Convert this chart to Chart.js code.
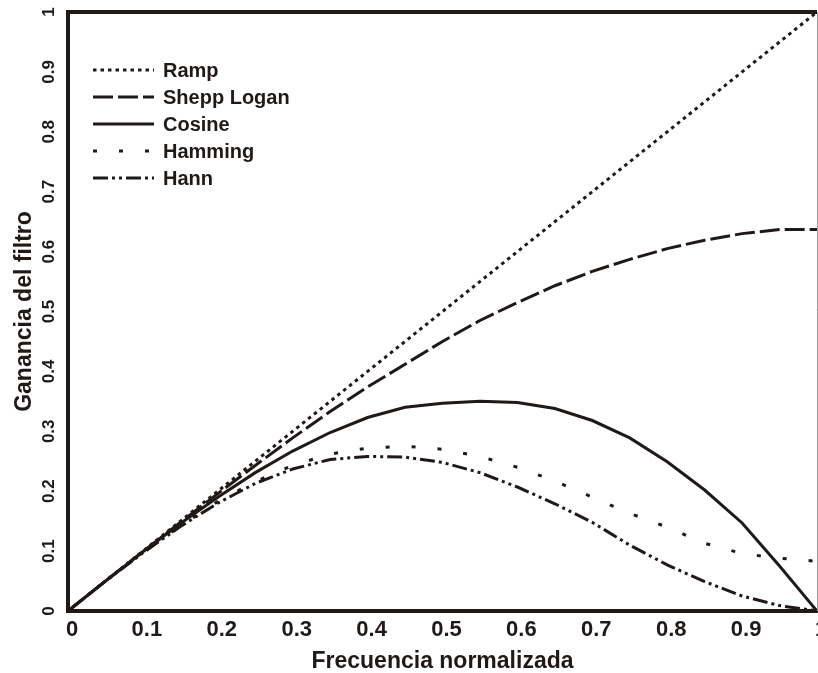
<!DOCTYPE html>
<html>
<head>
<meta charset="utf-8">
<script src="https://cdn.jsdelivr.net/npm/chart.js@4.4.1/dist/chart.umd.min.js"></script>
<style>
    html, body { margin: 0; padding: 0; background: #fff; overflow: hidden; }
    canvas { display: block; }
</style>
</head>
<body>
<canvas id="filterChart" width="818" height="673"></canvas>
<script>
// normalized frequency samples
const freq = [0, 0.05, 0.1, 0.15, 0.2, 0.25, 0.3, 0.35, 0.4, 0.45, 0.5,
    0.55, 0.6, 0.65, 0.7, 0.75, 0.8, 0.85, 0.9, 0.95, 1];

const ramp = [0, 0.05, 0.1, 0.15, 0.2, 0.25, 0.3, 0.35, 0.4, 0.45, 0.5,
    0.55, 0.6, 0.65, 0.7, 0.75, 0.8, 0.85, 0.9, 0.95, 1];
const sheppLogan = [0, 0.05, 0.099, 0.148, 0.196, 0.243, 0.289, 0.333, 0.374, 0.412, 0.45,
    0.485, 0.515, 0.543, 0.567, 0.587, 0.605, 0.619, 0.63, 0.637, 0.637];
const cosine = [0, 0.05, 0.099, 0.146, 0.19, 0.231, 0.267, 0.298, 0.323, 0.34, 0.347,
    0.35, 0.348, 0.338, 0.318, 0.289, 0.249, 0.202, 0.147, 0.075, 0];
const hamming = [0, 0.05, 0.098, 0.142, 0.183, 0.216, 0.243, 0.262, 0.272, 0.275, 0.27,
    0.258, 0.24, 0.217, 0.19, 0.163, 0.14, 0.113, 0.096, 0.088, 0.083];
const hann = [0, 0.05, 0.097, 0.141, 0.18, 0.213, 0.237, 0.253, 0.258, 0.257, 0.248,
    0.231, 0.207, 0.179, 0.148, 0.11, 0.077, 0.049, 0.025, 0.009, 0];

const seriesNames = ["Ramp", "Shepp Logan", "Cosine", "Hamming", "Hann"];
const xTicks = { min: 0, max: 1, step: 0.1 };
const yTicks = { min: 0, max: 1, step: 0.1 };

const ink = "#1f1a17";
const family = "'Liberation Sans', Arial, sans-serif";

function toPoints(ys) {
    return freq.map((x, i) => ({ x: x, y: ys[i] }));
}

function lineSet(label, ys, dash) {
    return {
        label: label,
        data: toPoints(ys),
        borderColor: ink,
        borderWidth: 3,
        borderDash: dash,
        borderCapStyle: "butt",
        pointRadius: 0,
        fill: false,
        tension: 0,
    };
}

// legend drawn inside the plot, top left
const insideLegend = {
    id: "insideLegend",
    afterDraw(chart) {
        const ctx = chart.ctx;
        const area = chart.chartArea;
        ctx.save();
        chart.data.datasets.forEach(function (ds, i) {
            const y = area.top + 58 + i * 27;
            ctx.strokeStyle = ink;
            ctx.lineWidth = 3;
            ctx.setLineDash(ds.borderDash);
            ctx.beginPath();
            ctx.moveTo(area.left + 25, y);
            ctx.lineTo(area.left + 86, y);
            ctx.stroke();
            ctx.setLineDash([]);
            ctx.fillStyle = ink;
            ctx.font = "bold 20px " + family;
            ctx.textBaseline = "middle";
            ctx.textAlign = "left";
            ctx.fillText(ds.label, area.left + 95, y + 1);
        });
        ctx.restore();
    },
};

// top border and thin right edge
const frame = {
    id: "frame",
    afterDraw(chart) {
        const ctx = chart.ctx;
        const a = chart.chartArea;
        ctx.save();
        ctx.strokeStyle = ink;
        ctx.lineWidth = 4;
        ctx.beginPath();
        ctx.moveTo(a.left - 2, a.top);
        ctx.lineTo(a.right, a.top);
        ctx.stroke();
        ctx.strokeStyle = "#9a9a9a";
        ctx.lineWidth = 1;
        ctx.beginPath();
        ctx.moveTo(a.right + 0.5, a.top);
        ctx.lineTo(a.right + 0.5, a.bottom);
        ctx.stroke();
        ctx.restore();
    },
};

new Chart(document.getElementById("filterChart"), {
    type: "line",
    data: {
        datasets: [
            lineSet(seriesNames[0], ramp, [3.5, 4]),
            lineSet(seriesNames[1], sheppLogan, [20, 5]),
            lineSet(seriesNames[2], cosine, []),
            lineSet(seriesNames[3], hamming, [4, 22]),
            lineSet(seriesNames[4], hann, [15, 4, 3, 4, 3, 4]),
        ],
    },
    options: {
        responsive: false,
        animation: false,
        devicePixelRatio: 1,
        layout: { padding: { top: 12, right: 1, left: 0, bottom: 0 } },
        plugins: {
            legend: { display: false },
            tooltip: { enabled: false },
        },
        scales: {
            x: {
                type: "linear",
                min: xTicks.min,
                max: xTicks.max,
                grid: { display: false, drawTicks: false },
                border: { display: true, width: 4, color: ink },
                ticks: {
                    stepSize: xTicks.step,
                    autoSkip: false,
                    maxRotation: 0,
                    padding: 6,
                    labelOffset: 4,
                    color: ink,
                    font: { family: family, size: 22, weight: "bold" },
                    callback: (v) => String(+v.toFixed(1)),
                },
                title: {
                    display: true,
                    text: "Frecuencia normalizada",
                    color: ink,
                    font: { family: family, size: 23, weight: "bold", lineHeight: 1 },
                    padding: { top: 0, bottom: 0 },
                },
                afterFit: (s) => {
                    s.height = 62;
                    s.paddingLeft = 0;
                    s.paddingRight = 0;
                },
            },
            y: {
                type: "linear",
                min: yTicks.min,
                max: yTicks.max,
                grid: { display: false, drawTicks: false },
                border: { display: true, width: 4, color: ink },
                ticks: {
                    stepSize: yTicks.step,
                    minRotation: 90,
                    maxRotation: 90,
                    crossAlign: "center",
                    padding: 7,
                    color: ink,
                    font: { family: family, size: 17, weight: "bold" },
                    callback: (v) => String(+v.toFixed(1)),
                },
                title: {
                    display: true,
                    text: "Ganancia del filtro",
                    color: ink,
                    font: { family: family, size: 23, weight: "bold", lineHeight: 1 },
                    padding: { top: 13, bottom: 0 },
                },
                afterFit: (s) => {
                    s.width = 68;
                    s.paddingTop = 0;
                    s.paddingBottom = 0;
                },
            },
        },
    },
    plugins: [insideLegend, frame],
});
</script>
</body>
</html>
